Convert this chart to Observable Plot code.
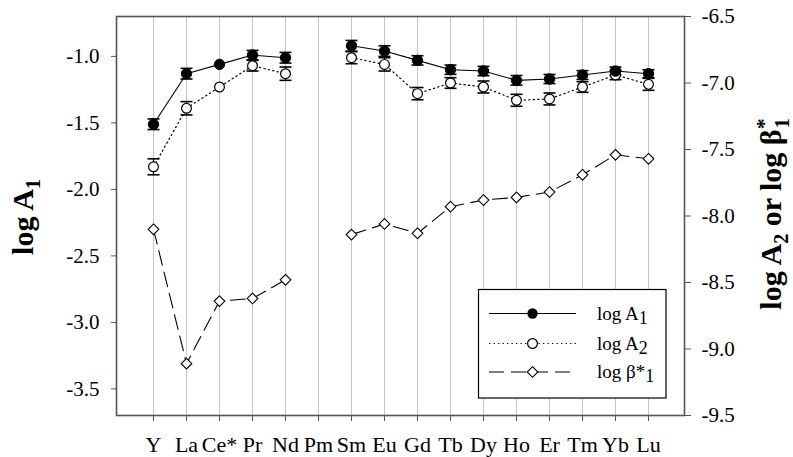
<!DOCTYPE html>
<html>
<head>
<meta charset="utf-8">
<script src="https://cdn.jsdelivr.net/npm/d3@7"></script>
<script src="https://cdn.jsdelivr.net/npm/@observablehq/plot@0.6"></script>
<style>
  html, body { margin: 0; padding: 0; background: #fff; }
  #chart { width: 793px; height: 457px; }
</style>
</head>
<body>
<div id="chart"></div>
<script>
// ---- data ----
const categories = ["Y","La","Ce*","Pr","Nd","Pm","Sm","Eu","Gd","Tb","Dy","Ho","Er","Tm","Yb","Lu"];
const logA1  = [-1.51,-1.13,-1.06,-0.99,-1.01,null,-0.92,-0.96,-1.03,-1.10,-1.11,-1.18,-1.17,-1.14,-1.11,-1.13];
const errA1  = [0.04,0.04,0,0.035,0.04,null,0.04,0.04,0.035,0.035,0.035,0.036,0.034,0.033,0.03,0.03];
const logA2  = [-7.63,-7.19,-7.03,-6.87,-6.93,null,-6.81,-6.86,-7.08,-7.00,-7.03,-7.13,-7.12,-7.03,-6.94,-7.01];
const errA2  = [0.06,0.05,0,0.04,0.05,null,0.045,0.05,0.046,0.04,0.045,0.045,0.045,0.04,0.035,0.045];
const logBeta = [-8.10,-9.11,-8.64,-8.62,-8.48,null,-8.14,-8.06,-8.13,-7.93,-7.88,-7.86,-7.82,-7.69,-7.54,-7.57];
const leftDomain = [-3.7, -0.7];
const rightDomain = [-9.5, -6.5];
const leftTicks = [-3.5, -3.0, -2.5, -2.0, -1.5, -1.0];
const rightTicks = [-9.5, -9.0, -8.5, -8.0, -7.5, -7.0, -6.5];

// right axis values are mapped onto the left scale by a constant offset
const OFFSET = leftDomain[0] - rightDomain[0];
const num = v => (v == null ? NaN : v);

const rows = categories.map((c, i) => ({
  cat: c,
  a1: num(logA1[i]), e1: num(errA1[i]),
  a2: num(logA2[i]) + OFFSET, e2: num(errA2[i]),
  b: num(logBeta[i]) + OFFSET
}));

const capSymbol = { draw(ctx) { ctx.moveTo(-6, 0); ctx.lineTo(6, 0); } };

const err1 = rows.filter(d => d.e1 > 0);
const err2 = rows.filter(d => d.e2 > 0);
const caps1 = err1.flatMap(d => [{cat: d.cat, y: d.a1 - d.e1}, {cat: d.cat, y: d.a1 + d.e1}]);
const caps2 = err2.flatMap(d => [{cat: d.cat, y: d.a2 - d.e2}, {cat: d.cat, y: d.a2 + d.e2}]);

const frameColor = "#555";

const svgNode = Plot.plot({
  width: 793,
  height: 457,
  marginLeft: 116,
  marginRight: 109,
  marginTop: 16,
  marginBottom: 42,
  style: { fontFamily: "'Liberation Serif', 'Times New Roman', serif", fontSize: "21px", color: "black", background: "white", overflow: "visible" },
  x: { type: "point", domain: categories, padding: 1 },
  y: { domain: leftDomain },
  marks: [
    Plot.ruleX(categories, { stroke: "#c4c4c4", strokeWidth: 1 }),
    Plot.frame({ stroke: frameColor, strokeWidth: 1.6 }),
    Plot.axisX({ anchor: "bottom", tickSize: 6, tickPadding: 15, fontSize: 22, label: null, stroke: frameColor }),
    Plot.axisY({ anchor: "left", ticks: leftTicks, tickSize: 5, tickPadding: 12, fontSize: 21, tickFormat: d => d.toFixed(1), label: null, stroke: frameColor }),
    Plot.axisY({ anchor: "right", ticks: rightTicks.map(t => t + OFFSET), tickSize: 6, tickPadding: 11, fontSize: 21, tickFormat: d => (d - OFFSET).toFixed(1), label: null, stroke: frameColor }),
    // lines
    Plot.line(rows, { x: "cat", y: "b", stroke: "black", strokeWidth: 1.1, strokeDasharray: "15,7" }),
    Plot.line(rows, { x: "cat", y: "a2", stroke: "black", strokeWidth: 1.2, strokeDasharray: "1.3,3.2" }),
    Plot.line(rows, { x: "cat", y: "a1", stroke: "black", strokeWidth: 1.1 }),
    // error bars
    Plot.ruleX(err2, { x: "cat", y1: d => d.a2 - d.e2, y2: d => d.a2 + d.e2, stroke: "black", strokeWidth: 1.2 }),
    Plot.dot(caps2, { x: "cat", y: "y", symbol: capSymbol, fill: "none", stroke: "black", strokeWidth: 1.6 }),
    Plot.ruleX(err1, { x: "cat", y1: d => d.a1 - d.e1, y2: d => d.a1 + d.e1, stroke: "black", strokeWidth: 1.2 }),
    Plot.dot(caps1, { x: "cat", y: "y", symbol: capSymbol, fill: "none", stroke: "black", strokeWidth: 1.6 }),
    // markers
    Plot.dot(rows, { x: "cat", y: "b", symbol: "diamond2", r: 4.8, fill: "white", stroke: "black", strokeWidth: 1.1 }),
    Plot.dot(rows, { x: "cat", y: "a2", symbol: "circle", r: 4.9, fill: "white", stroke: "black", strokeWidth: 1.2 }),
    Plot.dot(rows, { x: "cat", y: "a1", symbol: "circle", r: 5.2, fill: "black", stroke: "black", strokeWidth: 1 })
  ]
});

document.getElementById("chart").appendChild(svgNode);
const svg = d3.select(svgNode);
const fam = "'Liberation Serif', 'Times New Roman', serif";

// ---- axis titles ----
const lt = svg.append("text")
  .attr("transform", "translate(33,217) rotate(-90)")
  .attr("text-anchor", "middle")
  .attr("font-family", fam).attr("font-weight", "bold").attr("font-size", 30).attr("fill", "black");
lt.append("tspan").text("log A");
lt.append("tspan").attr("font-size", 20).attr("dy", 7).text("1");

const rt = svg.append("text")
  .attr("transform", "translate(781,214) rotate(-90)")
  .attr("text-anchor", "middle")
  .attr("font-family", fam).attr("font-weight", "bold").attr("font-size", 30).attr("fill", "black");
rt.append("tspan").text("log A");
rt.append("tspan").attr("font-size", 20).attr("dy", 7).text("2");
rt.append("tspan").attr("dy", -7).text(" or log \u03B2");
rt.append("tspan").attr("font-size", 22).attr("dy", -10).text("*");
rt.append("tspan").attr("font-size", 20).attr("dx", -10).attr("dy", 18).text("1");

// ---- legend ----
const lg = svg.append("g").attr("font-family", fam).attr("font-size", 19).attr("fill", "black")
  .attr("text-anchor", "start");
lg.append("rect").attr("x", 478.5).attr("y", 289.5).attr("width", 187.5).attr("height", 108.5)
  .attr("fill", "white").attr("stroke", "black").attr("stroke-width", 1.2);
const legendItems = [
  { y: 313.5, dash: null, sym: "filled", main: "log A", sub: "1" },
  { y: 343.5, dash: "1.3,3.2", sym: "open", main: "log A", sub: "2" },
  { y: 372, dash: "15,7", sym: "diamond", main: "log \u03B2*", sub: "1" }
];
legendItems.forEach(it => {
  const ln = lg.append("line").attr("x1", 489).attr("x2", 576).attr("y1", it.y).attr("y2", it.y)
    .attr("stroke", "black").attr("stroke-width", 1.1);
  if (it.dash) ln.attr("stroke-dasharray", it.dash);
  if (it.sym === "filled") {
    lg.append("circle").attr("cx", 532.5).attr("cy", it.y).attr("r", 5.2).attr("fill", "black");
  } else if (it.sym === "open") {
    lg.append("circle").attr("cx", 532.5).attr("cy", it.y).attr("r", 4.9).attr("fill", "white").attr("stroke", "black").attr("stroke-width", 1.2);
  } else {
    lg.append("path").attr("transform", `translate(532.5,${it.y})`)
      .attr("d", d3.symbol(d3.symbolDiamond2, 4.8 * 4.8 * Math.PI)())
      .attr("fill", "white").attr("stroke", "black").attr("stroke-width", 1.1);
  }
  const t = lg.append("text").attr("x", 597).attr("y", it.y + 6).attr("text-anchor", "start");
  t.append("tspan").text(it.main);
  t.append("tspan").attr("dy", 4).attr("font-size", 18).text(it.sub);
});
</script>
</body>
</html>
